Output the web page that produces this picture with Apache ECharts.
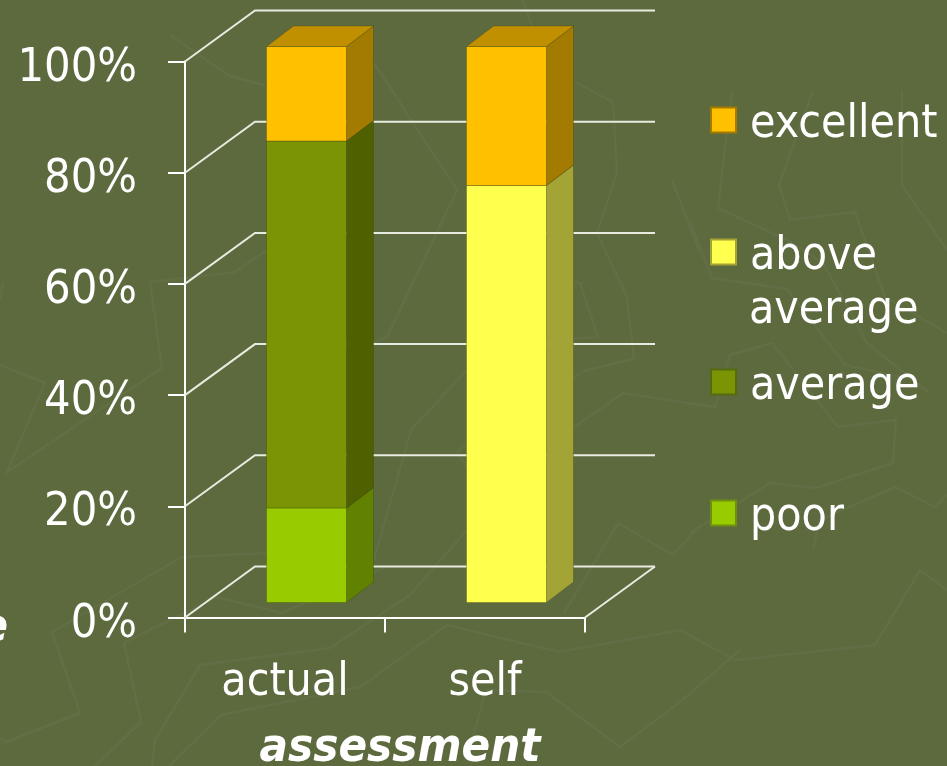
<!DOCTYPE html>
<html>
<head>
<meta charset="utf-8">
<style>
  html, body { margin: 0; padding: 0; background: #5d6a3e; }
  #main { width: 947px; height: 766px; }
</style>
<script src="https://cdn.jsdelivr.net/npm/echarts@6/dist/echarts.min.js"></script>
</head>
<body>
<div id="main"></div>
<script>
var categories = ['actual', 'self']
var poor = [17, 0]
var average = [66, 0]
var aboveAverage = [0, 75]
var excellent = [17, 25]
var yTicks = [0, 20, 40, 60, 80, 100]

var FONT = '"DejaVu Sans Condensed", "DejaVu Sans", sans-serif'
var TEXT = '#ffffff'

// pseudo 3d depth, px
var WALL_DX = 70
var WALL_DY = -51
var BAR_OFFSET_DX = 21.5
var BAR_OFFSET_DY = -15
var BAR_DX = 27
var BAR_DY = -20.5

// faint slide background scribble, not data
var scribbles = [
  [[732, 90], [718, 208], [787, 240], [823, 263], [867, 343], [928, 392]],
  [[813, 90], [779, 185], [790, 220], [855, 212], [885, 297], [947, 333]],
  [[902, 90], [902, 185], [947, 250]],
  [[690, 222], [712, 278], [787, 289], [845, 365], [905, 378]],
  [[690, 403], [715, 407], [730, 355], [772, 343], [838, 427], [896, 420], [893, 463], [816, 488], [770, 483], [690, 533]],
  [[813, 550], [820, 520], [895, 487], [935, 507], [947, 495]],
  [[0, 738], [6, 742], [80, 713], [52, 632], [182, 557], [267, 553]],
  [[95, 766], [141, 722], [124, 643], [217, 597], [282, 613], [386, 567]],
  [[152, 766], [155, 740], [200, 665], [330, 648], [410, 595], [467, 530]],
  [[169, 766], [221, 715], [360, 687], [447, 625], [559, 652], [680, 630], [735, 660], [875, 645], [920, 570], [947, 590]],
  [[473, 737], [486, 690], [546, 692], [620, 747], [680, 702], [740, 650]],
  [[564, 613], [618, 523], [673, 555], [700, 525]],
  [[170, 35], [230, 76], [265, 85]],
  [[374, 63], [457, 190], [387, 337], [373, 343]],
  [[523, 0], [532, 27]],
  [[575, 82], [613, 102], [617, 172], [597, 233], [627, 297], [634, 359], [587, 370], [573, 378]],
  [[575, 282], [580, 283], [598, 337], [573, 339]],
  [[672, 180], [700, 253]],
  [[573, 428], [623, 393], [700, 405]],
  [[467, 370], [411, 430], [373, 563]],
  [[468, 443], [457, 452], [467, 467]],
  [[0, 365], [45, 383], [7, 472], [162, 368], [150, 282], [235, 272], [267, 250]],
  [[3, 283], [0, 300]]
]

var stackOrder = [poor, average, aboveAverage, excellent]

function toRows(values) {
  return values.map(function(v, i) {
    var base = 0
    // sum whatever sits under this segment
    for (var s = 0; s < stackOrder.length && stackOrder[s] !== values; s++) {
      base += stackOrder[s][i]
    }
    return [i, v, base]
  })
}

function renderWall(params, api) {
  var p = api.coord([0, api.value(0)])
  var left = params.coordSys.x
  var right = left + params.coordSys.width
  var children = [{
    type: 'polyline',
    shape: { points: [[left, p[1]], [left + WALL_DX, p[1] + WALL_DY], [right + WALL_DX, p[1] + WALL_DY]] },
    style: { fill: null, stroke: '#e8ebe0', lineWidth: 2 }
  }]
  if (api.value(0) === 0) {
    children.push({
      type: 'line',
      shape: { x1: right, y1: p[1], x2: right + WALL_DX, y2: p[1] + WALL_DY },
      style: { stroke: '#e8ebe0', lineWidth: 2 }
    })
  }
  return { type: 'group', children: children }
}

function barRenderer(front, side, top) {
  return function(params, api) {
    var value = api.value(1)
    if (!value) return
    var base = api.value(2)
    var bottomPt = api.coord([api.value(0), base])
    var topPt = api.coord([api.value(0), base + value])
    var w = api.size([1, 0])[0] / 2.5
    var x0 = bottomPt[0] - w / 2 + BAR_OFFSET_DX
    var x1 = x0 + w
    var y0 = bottomPt[1] + BAR_OFFSET_DY
    var y1 = topPt[1] + BAR_OFFSET_DY
    var edge = 'rgba(50,60,20,0.3)'
    var children = [{
      type: 'polygon',
      shape: { points: [[x1, y0], [x1 + BAR_DX, y0 + BAR_DY], [x1 + BAR_DX, y1 + BAR_DY], [x1, y1]] },
      style: { fill: side, stroke: edge, lineWidth: 1 }
    }, {
      type: 'rect',
      shape: { x: x0, y: y1, width: w, height: y0 - y1 },
      style: { fill: front, stroke: edge, lineWidth: 1 }
    }]
    if (base + value >= 100) {
      children.push({
        type: 'polygon',
        shape: { points: [[x0, y1], [x0 + BAR_DX, y1 + BAR_DY], [x1 + BAR_DX, y1 + BAR_DY], [x1, y1]] },
        style: { fill: top, stroke: edge, lineWidth: 1 }
      })
    }
    return { type: 'group', children: children }
  }
}

function barSeries(name, values, front, side, top, border) {
  return {
    name: name,
    type: 'custom',
    z: 5,
    silent: true,
    renderItem: barRenderer(front, side, top),
    encode: { x: 0, y: 1 },
    data: toRows(values),
    itemStyle: { color: front, borderColor: border, borderWidth: 1 }
  }
}

function legendAt(name, top, label) {
  return {
    left: 710,
    top: top,
    padding: 0,
    orient: 'vertical',
    icon: 'rect',
    itemWidth: 25,
    itemHeight: 25,
    selectedMode: false,
    data: [name],
    formatter: function() { return '{t|' + (label || name) + '}' },
    textStyle: {
      color: TEXT,
      rich: { t: { color: TEXT, fontFamily: FONT, fontSize: 46, lineHeight: 50, padding: [10, 0, 0, 9] } }
    }
  }
}

var chart = echarts.init(document.getElementById('main'), null, { renderer: 'canvas' })
chart.setOption({
  animation: false,
  backgroundColor: '#5d6a3e',
  grid: { left: 185, right: 362, top: 61.5, bottom: 148.5, outerBoundsMode: 'none' },
  graphic: scribbles.map(function(pts) {
    return {
      type: 'polyline',
      z: -10,
      silent: true,
      shape: { points: pts },
      style: { fill: null, stroke: '#626f46', lineWidth: 2.5 }
    }
  }).concat([{
    type: 'text',
    z: -5,
    silent: true,
    left: -20,
    top: 606,
    style: { text: 'e', fill: TEXT, font: 'italic bold 46px ' + FONT }
  }, {
    // second line of the above average legend entry
    type: 'text',
    z: 5,
    silent: true,
    left: 749,
    top: 288,
    style: { text: 'average', fill: TEXT, font: '46px ' + FONT }
  }]),
  xAxis: {
    type: 'category',
    data: categories,
    name: 'assessment',
    nameLocation: 'middle',
    nameGap: 108,
    nameTextStyle: { color: TEXT, fontFamily: FONT, fontSize: 47, fontWeight: 'bold', fontStyle: 'italic', padding: [0, 0, 0, 30] },
    axisLine: { lineStyle: { color: '#fff', width: 2 } },
    axisTick: { show: true, length: 15, lineStyle: { color: '#fff', width: 2 } },
    axisLabel: { color: TEXT, fontFamily: FONT, fontSize: 46, margin: 43 }
  },
  yAxis: {
    type: 'value',
    min: yTicks[0],
    max: yTicks[yTicks.length - 1],
    interval: 20,
    axisLine: { show: true, lineStyle: { color: '#fff', width: 2 } },
    axisTick: { show: true, length: 17, lineStyle: { color: '#fff', width: 2 } },
    splitLine: { show: false },
    axisLabel: {
      margin: 48,
      formatter: function(v) { return '{t|' + v + '%}' },
      rich: { t: { color: TEXT, fontFamily: FONT, fontSize: 46.5, padding: [14, 0, 0, 0] } }
    }
  },
  legend: [
    legendAt('excellent', 92),
    legendAt('above average', 224, 'above'),
    legendAt('average', 354),
    legendAt('poor', 485)
  ],
  series: [
    {
      name: 'walls',
      type: 'custom',
      z: 1,
      silent: true,
      renderItem: renderWall,
      encode: { y: 0 },
      data: yTicks.map(function(t) { return [t] })
    },
    barSeries('poor', poor, '#99cc00', '#618100', '#99cc00', '#6f8f10'),
    barSeries('average', average, '#7a9404', '#4f6000', '#7a9404', '#566b10'),
    barSeries('above average', aboveAverage, '#ffff4d', '#a3a336', '#c09000', '#a3a336'),
    barSeries('excellent', excellent, '#ffc000', '#a37b00', '#c09000', '#a37b00')
  ]
})
</script>
</body>
</html>
